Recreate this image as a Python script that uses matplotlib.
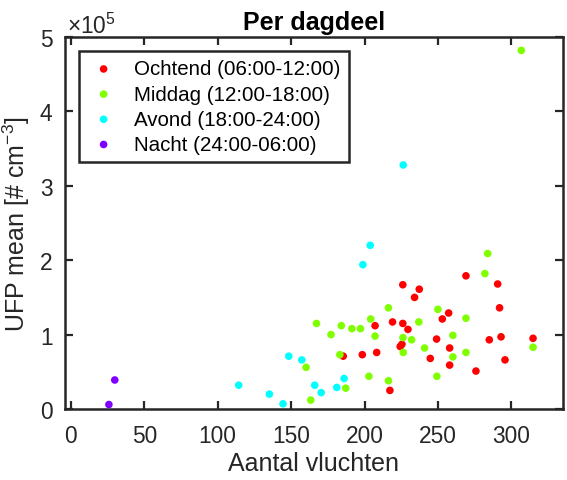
import matplotlib
matplotlib.use("Agg")
import matplotlib.pyplot as plt
import numpy as np

plt.rcParams['font.family'] = ['Liberation Sans', 'DejaVu Sans']
plt.rcParams['mathtext.fontset'] = 'custom'
plt.rcParams['mathtext.rm'] = 'Liberation Sans'

# Data (y in units of 1e5 #/cm^3)
ochtend_x = [185.5, 198.5, 207.2, 208.3, 217.3, 219.1, 224.3, 225.5, 226.1, 226.1, 229.6, 234.1,
             237.3, 244.8, 249.1, 253.0, 257.3, 258.0, 258.0, 269.1, 275.9, 285.0, 290.7, 292.0,
             293.0, 295.7, 314.8]
ochtend_y = [0.71, 0.73, 1.12, 0.76, 0.25, 1.17, 0.84, 0.87, 1.15, 1.67, 1.07, 1.50,
             1.61, 0.68, 0.94, 1.21, 1.29, 0.82, 0.59, 1.79, 0.51, 0.93, 1.68, 1.36,
             0.97, 0.66, 0.95]
middag_x = [160.2, 163.4, 167.3, 177.2, 183.2, 184.2, 187.2, 191.4, 197.2, 203.0, 204.2, 207.2,
            216.3, 216.3, 226.2, 226.4, 232.1, 237.0, 240.9, 249.3, 250.0, 260.2, 260.2, 269.1,
            269.1, 282.0, 283.9, 306.8, 314.8]
middag_y = [0.56, 0.12, 1.15, 1.00, 0.73, 1.12, 0.28, 1.08, 1.08, 0.44, 1.21, 0.98,
            1.36, 0.38, 0.96, 0.76, 0.93, 1.17, 0.82, 0.44, 1.34, 0.99, 0.70, 1.22,
            0.76, 1.82, 2.09, 4.82, 0.83]
avond_x = [114.3, 135.2, 144.5, 148.4, 157.3, 166.1, 170.5, 181.1, 186.1, 198.9, 203.9, 226.4]
avond_y = [0.32, 0.20, 0.07, 0.71, 0.66, 0.32, 0.22, 0.29, 0.41, 1.94, 2.20, 3.28]
nacht_x = [25.9, 29.9]
nacht_y = [0.06, 0.39]

series = [
    ("Ochtend (06:00-12:00)", ochtend_x, ochtend_y, "#ff0000"),
    ("Middag (12:00-18:00)", middag_x, middag_y, "#7fff00"),
    ("Avond (18:00-24:00)", avond_x, avond_y, "#00ffff"),
    ("Nacht (24:00-06:00)", nacht_x, nacht_y, "#7f00ff"),
]

xticks = [0, 50, 100, 150, 200, 250, 300]
yticks = [0, 1, 2, 3, 4, 5]

W, H = 567, 481
fig = plt.figure(figsize=(W / 100, H / 100), dpi=100)
L, R, T, B = 65, 562.7, 38, 410
ax = fig.add_axes([L / W, 1 - B / H, (R - L) / W, (B - T) / H])

for label, xs, ys, c in series:
    ax.scatter(xs, np.array(ys) * 1e5, s=30, color=c, edgecolors='none', label=label, zorder=3)

ax.set_xlim(-4, 335)
ax.set_ylim(0, 5e5)
ax.set_xticks(xticks)
ax.set_xticklabels([str(t) for t in xticks])
ax.set_yticks([t * 1e5 for t in yticks])
ax.set_yticklabels([str(t) for t in yticks])

axcol = '#262626'
for sp in ax.spines.values():
    sp.set_linewidth(1.8)
    sp.set_color(axcol)
ax.tick_params(direction='in', length=6, width=1.6, colors=axcol, labelsize=16.4,
               top=True, right=True)
ax.tick_params(axis='x', pad=11)
ax.tick_params(axis='y', pad=9)

ax.set_xlabel("Aantal vluchten", fontsize=18, color=axcol, labelpad=3)
ax.set_ylabel(r"UFP mean [# cm$^{-3}$]", fontsize=18, color=axcol, labelpad=6)
ax.set_title("Per dagdeel", fontsize=18, fontweight='bold', color='black', pad=6)
ax.text(0.004, 1.0 + 4 / 372, "×10$^{5}$", transform=ax.transAxes, fontsize=16.4,
        color=axcol, ha='left', va='baseline')

leg = ax.legend(loc='upper left', bbox_to_anchor=(0.028, 0.962), borderaxespad=0,
                fontsize=14.8, frameon=True, fancybox=False, framealpha=1,
                edgecolor='#262626', handlelength=1.6, handletextpad=0.68,
                borderpad=0.4, labelspacing=0.3, markerscale=1.0)
leg.get_frame().set_linewidth(1.8)

fig.savefig("out.png", dpi=100)
